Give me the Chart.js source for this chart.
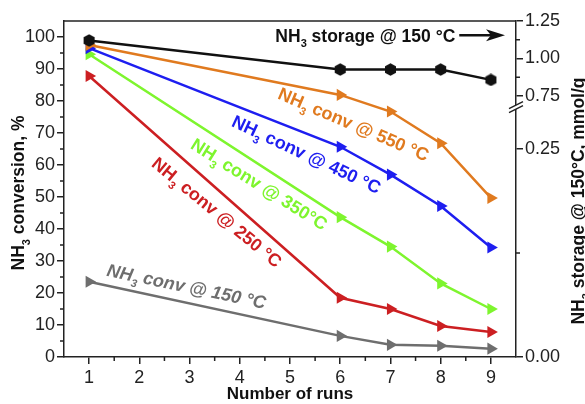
<!DOCTYPE html>
<html>
<head>
<meta charset="utf-8">
<script src="https://cdn.jsdelivr.net/npm/chart.js@4/dist/chart.umd.min.js"></script>
<style>
  html, body { margin: 0; padding: 0; background: #fff; }
  #wrap { width: 585px; height: 404px; }
</style>
</head>
<body>
<div id="wrap"><canvas id="chart" width="585" height="404"></canvas></div>
<script>
// data
const runs = [1, 6, 7, 8, 9];
const conv150 = [23.5, 6.6, 3.8, 3.5, 2.6];
const conv250 = [87.8, 18.5, 15.0, 9.7, 7.8];
const conv350 = [94.6, 43.7, 34.5, 23.0, 15.0];
const conv450 = [96.5, 65.7, 57.0, 47.2, 34.2];
const conv550 = [97.5, 81.9, 76.7, 66.8, 49.7];
const storage = [1.12, 0.926, 0.926, 0.926, 0.857]; // mmol/g

const runTicks = [1, 2, 3, 4, 5, 6, 7, 8, 9];
const convTicks = [0, 10, 20, 30, 40, 50, 60, 70, 80, 90, 100];
const storageTicks = [0, 0.25, 0.75, 1.00, 1.25];

const FONT = '"Liberation Sans", Arial, Helvetica, sans-serif';
const colors = {
  storage: "#111111",
  c550: "#E07A1F",
  c450: "#1E1EF0",
  c350: "#7EF52E",
  c250: "#CC1F22",
  c150: "#6E6E6E"
};

// right axis has a break between 0.25 and 0.75
class BrokenScale extends Chart.LinearScale {
  _frac(v) {
    if (v <= 0.25) return v / 0.25 * 0.619;
    if (v >= 0.75) return 0.777 + (v - 0.75) / 0.5 * 0.223;
    return 0.619 + (v - 0.25) / 0.5 * (0.777 - 0.619);
  }
  getPixelForValue(value) {
    return this.getPixelForDecimal(this._frac(value));
  }
  getValueForPixel(pixel) {
    const f = this.getDecimalForPixel(pixel);
    if (f <= 0.619) return f / 0.619 * 0.25;
    if (f >= 0.777) return 0.75 + (f - 0.777) / 0.223 * 0.5;
    return 0.25 + (f - 0.619) / (0.777 - 0.619) * 0.5;
  }
}
BrokenScale.id = "broken";
BrokenScale.defaults = Chart.LinearScale.defaults;
Chart.register(BrokenScale);

function hexagon(size) {
  const c = document.createElement("canvas");
  c.width = size; c.height = size;
  const g = c.getContext("2d");
  const r = size / 2;
  g.fillStyle = colors.storage;
  g.beginPath();
  for (let k = 0; k < 6; k++) {
    const a = Math.PI / 2 + k * Math.PI / 3;
    const px = r + Math.cos(a) * r * 0.98, py = r + Math.sin(a) * r * 0.98;
    k === 0 ? g.moveTo(px, py) : g.lineTo(px, py);
  }
  g.closePath();
  g.fill();
  return c;
}
const hexMarker = hexagon(13);

function series(label, values, color, axis) {
  return {
    label: label,
    data: values.map((v, i) => ({ x: runs[i], y: v })),
    borderColor: color,
    backgroundColor: color,
    borderWidth: 2.5,
    pointStyle: axis === "y2" ? hexMarker : "triangle",
    pointRotation: axis === "y2" ? 0 : 90,
    pointRadius: 7,
    pointBorderWidth: 0,
    tension: 0,
    yAxisID: axis
  };
}

function drawRich(ctx, parts, cx, cy, angle, size, color, style) {
  const main = `${style} ${size}px ${FONT}`;
  const sub = `${style} ${Math.round(size * 0.62)}px ${FONT}`;
  ctx.save();
  ctx.translate(cx, cy);
  ctx.rotate(angle);
  ctx.fillStyle = color;
  ctx.textBaseline = "alphabetic";
  ctx.textAlign = "left";
  let total = 0;
  parts.forEach(p => { ctx.font = p.sub ? sub : main; total += ctx.measureText(p.t).width; });
  let x = -total / 2;
  const base = size * 0.36;
  parts.forEach(p => {
    ctx.font = p.sub ? sub : main;
    ctx.fillText(p.t, x, p.sub ? base + size * 0.3 : base);
    x += ctx.measureText(p.t).width;
  });
  ctx.restore();
}

const nh3 = rest => [{ t: "NH" }, { t: "3", sub: true }, { t: rest }];
const deg = Math.PI / 180;

// labels anchored in data units: [run, conversion %]
const labels = [
  { parts: nh3(" conv @ 550 °C"), at: [6.27, 72.8], angle: 23, color: colors.c550, style: "bold" },
  { parts: nh3(" conv @ 450 °C"), at: [5.33, 63.4], angle: 25, color: colors.c450, style: "bold" },
  { parts: nh3(" conv @ 350°C"), at: [4.39, 54.1], angle: 32, color: colors.c350, style: "bold" },
  { parts: nh3(" conv @ 250 °C"), at: [3.55, 45.3], angle: 39.5, color: colors.c250, style: "bold" },
  { parts: nh3(" conv @ 150 °C"), at: [2.94, 22.2], angle: 11.8, color: colors.c150, style: "italic bold" }
];

const decor = {
  id: "decor",
  afterDraw(chart) {
    const ctx = chart.ctx;
    const a = chart.chartArea;
    const xs = chart.scales.x, ys = chart.scales.y, y2 = chart.scales.y2;
    ctx.save();
    ctx.strokeStyle = "#222";
    ctx.lineWidth = 1.5;
    // top frame
    ctx.beginPath();
    ctx.moveTo(a.left, a.top);
    ctx.lineTo(a.right, a.top);
    ctx.stroke();
    // minor ticks
    ctx.beginPath();
    for (let v = 1.5; v < 9.5; v += 1) {
      const px = xs.getPixelForValue(v);
      ctx.moveTo(px, a.bottom); ctx.lineTo(px, a.bottom + 4);
    }
    for (let v = 5; v < 105; v += 10) {
      const py = ys.getPixelForValue(v);
      ctx.moveTo(a.left - 4, py); ctx.lineTo(a.left, py);
    }
    [0.125, 0.875, 1.125].forEach(v => {
      const py = y2.getPixelForValue(v);
      ctx.moveTo(a.right, py); ctx.lineTo(a.right + 4, py);
    });
    ctx.stroke();
    // axis break
    const by = y2.getPixelForValue(0.64);
    ctx.fillStyle = "#fff";
    ctx.beginPath();
    ctx.moveTo(a.right - 7, by + 1); ctx.lineTo(a.right + 7, by - 6);
    ctx.lineTo(a.right + 7, by - 2); ctx.lineTo(a.right - 7, by + 5);
    ctx.closePath();
    ctx.fill();
    ctx.beginPath();
    ctx.moveTo(a.right - 7, by + 1); ctx.lineTo(a.right + 7, by - 6);
    ctx.moveTo(a.right - 7, by + 5); ctx.lineTo(a.right + 7, by - 2);
    ctx.stroke();
    ctx.restore();

    // axis titles
    drawRich(ctx, [{ t: "Number of runs" }], (a.left + a.right) / 2, 393, 0, 17, "#111", "bold");
    drawRich(ctx, nh3(" conversion, %"), 18, 193, -90 * deg, 17.5, "#111", "bold");
    drawRich(ctx, nh3(" storage @ 150°C, mmol/g"), 578, 201, -90 * deg, 17.5, "#111", "bold");

    // curve labels
    labels.forEach(l => {
      drawRich(ctx, l.parts, xs.getPixelForValue(l.at[0]), ys.getPixelForValue(l.at[1]),
        l.angle * deg, 18, l.color, l.style);
    });

    // storage label with arrow to the right axis
    const sy = y2.getPixelForValue(1.155);
    drawRich(ctx, nh3(" storage @ 150 °C"), xs.getPixelForValue(6.5), sy, 0, 17.5, "#111", "bold");
    const ax0 = xs.getPixelForValue(8.37), ax1 = a.right - 11;
    ctx.save();
    ctx.strokeStyle = "#111";
    ctx.fillStyle = "#111";
    ctx.lineWidth = 2.5;
    ctx.beginPath();
    ctx.moveTo(ax0, sy); ctx.lineTo(ax1 - 8, sy);
    ctx.stroke();
    ctx.beginPath();
    ctx.moveTo(ax1, sy);
    ctx.lineTo(ax1 - 19, sy - 6);
    ctx.lineTo(ax1 - 14, sy);
    ctx.lineTo(ax1 - 19, sy + 6);
    ctx.closePath();
    ctx.fill();
    ctx.restore();
  }
};

const tickFont = { family: FONT, size: 18 };
const axisGrid = { drawOnChartArea: false, drawTicks: true, tickLength: 7, color: "#222", lineWidth: 1.5 };
const axisBorder = { display: true, color: "#222", width: 1.5 };

new Chart(document.getElementById("chart"), {
  type: "line",
  data: {
    datasets: [
      series("NH3 storage @ 150 °C", storage, colors.storage, "y2"),
      series("NH3 conv @ 550 °C", conv550, colors.c550, "y"),
      series("NH3 conv @ 450 °C", conv450, colors.c450, "y"),
      series("NH3 conv @ 350 °C", conv350, colors.c350, "y"),
      series("NH3 conv @ 250 °C", conv250, colors.c250, "y"),
      series("NH3 conv @ 150 °C", conv150, colors.c150, "y")
    ]
  },
  options: {
    responsive: false,
    animation: false,
    layout: { padding: { top: 21, left: 0, right: 0, bottom: 0 } },
    plugins: {
      legend: { display: false },
      tooltip: { enabled: false }
    },
    scales: {
      x: {
        type: "linear",
        min: 0.5,
        max: 9.5,
        afterBuildTicks: s => { s.ticks = runTicks.map(v => ({ value: v })); },
        afterFit: s => { s.height = 47; },
        grid: axisGrid,
        border: axisBorder,
        ticks: { font: tickFont, color: "#222", padding: 3, maxRotation: 0, autoSkip: false }
      },
      y: {
        position: "left",
        min: 0,
        max: 105,
        afterBuildTicks: s => { s.ticks = convTicks.map(v => ({ value: v })); },
        afterFit: s => { s.width = 64; },
        grid: axisGrid,
        border: axisBorder,
        ticks: { font: tickFont, color: "#222", padding: 2, autoSkip: false }
      },
      y2: {
        type: "broken",
        position: "right",
        min: 0,
        max: 1.25,
        afterBuildTicks: s => { s.ticks = storageTicks.map(v => ({ value: v })); },
        afterFit: s => { s.width = 69; },
        grid: axisGrid,
        border: axisBorder,
        ticks: { font: tickFont, color: "#222", padding: 2, autoSkip: false, callback: v => v.toFixed(2) }
      }
    }
  },
  plugins: [decor]
});
</script>
</body>
</html>
